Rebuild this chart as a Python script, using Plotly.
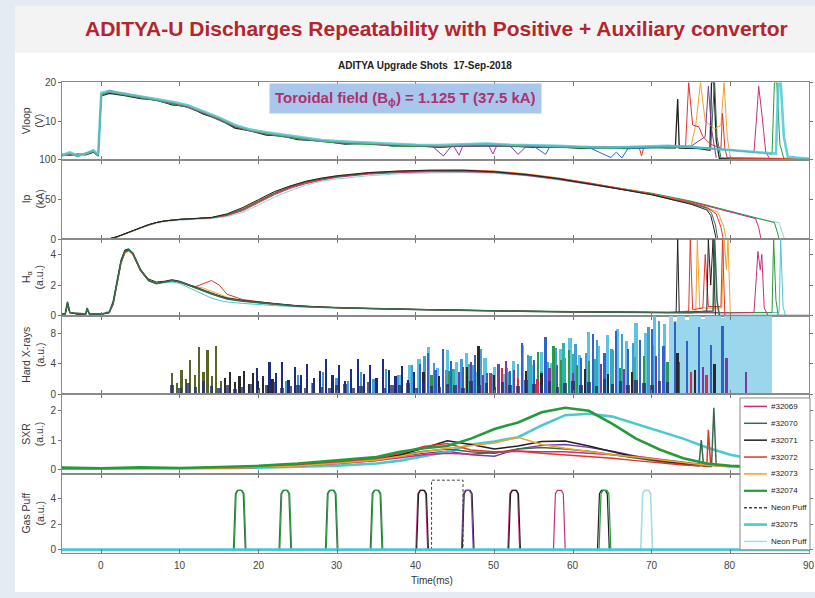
import plotly.graph_objects as go

# ------------------------------------------------------------------ data
shot_ids = ["#32069", "#32070", "#32071", "#32072", "#32073", "#32074", "#32075"]
x_ticks = [0, 10, 20, 30, 40, 50, 60, 70, 80, 90]

# ---- Vloop (V): common time base + per-shot events (dips / termination spikes)
t_vloop = [-5, -4, -3, -2, -1, -0.4, 0, 1, 3, 5, 7, 9, 11, 13, 15, 17, 19, 21, 23, 25, 28, 31, 34, 37,
           40, 43, 46, 49, 52, 55, 58, 61, 64, 67, 70, 72]
vloop_32069 = [1.3, 1.7, 1.2, 1.5, 2.2, 1.2, 16.9, 17.5, 16.9, 16.2, 15.4, 14.7, 13.7, 12.2, 10.5, 8.7, 7.5, 6.8, 6.2, 5.7, 4.9, 4.5, 4.2, 3.9, 3.7, 3.6, 3.8, 4.0, 3.7, 3.6, 3.4, 3.2, 3.1, 3.2, 3.4, 3.5]
vloop_32070 = [1.0, 1.6, 0.8, 1.8, 2.1, 1.1, 16.8, 18.0, 16.8, 16.1, 15.3, 14.6, 13.5, 12.0, 10.2, 8.5, 7.4, 6.7, 6.1, 5.5, 4.8, 4.3, 4.1, 3.7, 3.5, 3.4, 3.6, 3.8, 3.5, 3.5, 3.3, 3.1, 3.0, 3.1, 3.2, 3.3]
vloop_32071 = [1.4, 1.2, 1.5, 1.3, 2.0, 1.0, 16.5, 17.2, 16.6, 15.8, 15.5, 14.2, 13.8, 11.8, 10.5, 8.2, 7.5, 6.4, 6.2, 5.2, 4.9, 4.1, 4.3, 3.6, 3.7, 3.2, 3.7, 3.6, 3.6, 3.2, 3.4, 3.0, 3.1, 2.9, 3.3, 3.1]
vloop_32072 = [1.1, 1.5, 1.3, 1.7, 2.3, 1.2, 17.0, 17.6, 17.2, 16.3, 15.6, 14.8, 13.9, 12.3, 10.7, 8.8, 7.6, 6.9, 6.3, 5.8, 5.0, 4.4, 4.3, 3.9, 3.8, 3.5, 3.9, 4.1, 3.8, 3.7, 3.5, 3.3, 3.2, 3.2, 3.4, 3.6]
vloop_32073 = [1.2, 1.8, 1.0, 1.6, 2.4, 1.3, 17.1, 17.7, 17.0, 16.4, 15.7, 14.9, 14.0, 12.5, 10.8, 8.9, 7.7, 7.0, 6.4, 5.9, 5.0, 4.6, 4.4, 4.0, 3.9, 3.7, 4.0, 4.2, 3.9, 3.8, 3.6, 3.4, 3.3, 3.3, 3.5, 3.6]
vloop_32074 = [1.0, 1.4, 1.1, 1.5, 2.0, 1.1, 16.6, 17.4, 16.7, 15.9, 15.3, 14.4, 13.6, 12.1, 10.4, 8.6, 7.4, 6.6, 6.0, 5.4, 4.7, 4.2, 4.0, 3.6, 3.5, 3.3, 3.5, 3.7, 3.4, 3.4, 3.2, 3.0, 2.9, 3.0, 3.1, 3.2]
vloop_32075 = [1.2, 1.9, 1.1, 1.6, 2.5, 1.3, 17.3, 17.8, 17.1, 16.4, 15.8, 15.0, 14.1, 12.6, 10.9, 9.0, 7.8, 7.1, 6.5, 6.0, 5.1, 4.7, 4.4, 4.1, 3.9, 3.8, 4.0, 4.2, 3.9, 3.8, 3.6, 3.4, 3.2, 3.3, 3.5, 3.6]
vloop_ev_t_32069 = [44.8, 45.5, 46.2, 49.3, 49.8, 50.3, 74, 77, 80, 82, 83.0, 83.3, 83.6, 84.0, 84.5, 85, 90]
vloop_ev_v_32069 = [3.6, 1.2, 3.5, 3.6, 1.5, 3.7, 3.4, 3.1, 2.6, 2.2, 2.0, 10, 19, 12, 2, 0.3, 0.2]
vloop_ev_t_32070 = [74, 76, 77.5, 77.8, 78.0, 78.3, 78.8, 90]
vloop_ev_v_32070 = [3.3, 3.2, 3.0, 14, 20, 6, 0.5, 0.3]
vloop_ev_t_32071 = [73.0, 73.3, 73.5, 76, 77.4, 77.6, 77.9, 78.2, 78.6, 90]
vloop_ev_v_32071 = [3.1, 15.7, 3.0, 2.9, 2.5, 20, 20, 5, 0.4, 0.2]
vloop_ev_t_32072 = [68.4, 68.7, 69.0, 74.3, 74.7, 75.2, 76, 76.5, 77.5, 78.8, 79.0, 79.3, 79.6, 90]
vloop_ev_v_32072 = [3.3, 1.0, 3.3, 3.5, 20, 9, 8.5, 6, 4, 3, 12, 3, 0.5, 0.2]
vloop_ev_t_32073 = [75, 75.6, 76.2, 76.8, 78, 78.8, 79.2, 79.6, 80.0, 90]
vloop_ev_v_32073 = [3.6, 9, 20, 10, 8, 9, 20, 6, 0.5, 0.3]
vloop_ev_t_32074 = [75, 80, 84, 85.3, 85.6, 85.9, 86.3, 86.8, 90]
vloop_ev_v_32074 = [3.2, 2.5, 1.8, 1.5, 20, 20, 4, 0.4, 0.2]
vloop_ev_t_32075 = [75, 80, 84, 85.8, 86.1, 86.4, 86.8, 87.3, 90]
vloop_ev_v_32075 = [3.3, 2.6, 1.9, 1.6, 20, 20, 6, 0.8, 0.3]
vloop_purple_t = [40, 42, 43.5, 44.5, 52, 53, 54, 60, 70, 75, 76.8, 77.2, 77.6, 78.2]
vloop_purple_v = [3.6, 3.7, 1.0, 3.5, 3.6, 1.4, 3.4, 3.3, 3.4, 3.5, 6, 19, 8, 0.5]
vloop_blue_t = [55, 56.5, 57, 62, 64.8, 65.5, 66.2, 67, 72]
vloop_blue_v = [3.5, 1.4, 3.3, 3.2, 0.6, 2.0, 0.5, 3.0, 3.2]

# ---- Ip (kA)
t_ip = [-5, 0.5, 1, 2, 3, 4, 5, 6, 7, 8, 10, 12, 14, 16, 18, 20, 22, 24, 26, 28, 30, 34, 38, 42, 46, 50,
        54, 58, 62, 66, 70, 73, 75, 77]
ip_32069 = [0, 0, 0.5, 3, 7, 11, 15, 18, 21, 23, 25, 26, 27, 30, 36, 46, 56, 64, 70, 74.5, 78, 82, 84, 85, 85, 84, 80.5, 75.5, 69.5, 63, 57, 51, 47, 42]
ip_32070 = [0, 0, 0.5, 3, 7, 11, 15, 18, 21, 23, 25, 26, 27, 31, 38, 48, 58, 66, 72, 76, 79, 83, 85, 86, 86, 84.5, 81, 76, 70, 63, 56, 49, 45, 39]
ip_32071 = [0, 0, 0.6, 3.2, 7.2, 11, 15, 18.5, 21, 23, 25, 26.5, 27.5, 32, 40, 50, 60, 67, 73, 77, 80, 84, 86, 87, 87, 85, 81.5, 76.5, 70, 63, 56, 49, 44, 37]
ip_32072 = [0, 0, 0.5, 3, 7, 11, 15, 18, 21, 23, 25, 26, 27, 30, 37, 47, 57, 65, 71, 75.5, 79, 83, 85.5, 86.5, 86.5, 85.5, 82, 77, 71, 64, 57, 50, 46, 40]
ip_32073 = [0, 0, 0.4, 2.8, 6.8, 10.8, 14.8, 18, 21, 23, 25, 26, 27, 31, 39, 49, 59, 67, 73, 77, 80, 84, 86, 87, 87.5, 86, 82.5, 77.5, 71, 64, 57, 50, 46, 40]
ip_32074 = [0, 0, 0.5, 3, 7, 11, 15, 18, 21, 23, 25, 26, 27, 31, 38, 48, 58, 66, 72, 76, 79, 83, 85, 86, 86, 85, 81.5, 76.5, 70.5, 64, 58, 52, 48, 43]
ip_32075 = [0, 0, 0.3, 2.5, 6, 10, 14, 17, 20, 22, 24, 25, 26, 28.5, 34, 43, 53, 61, 68, 73, 76, 80, 82.5, 83.5, 84, 83, 80, 75, 69, 63, 57, 51, 47, 42]
ip_ev_t_32069 = [79, 81, 82.5, 83.2, 83.6, 83.9, 90]
ip_ev_v_32069 = [37, 32, 28, 26, 15, 0, 0]
ip_ev_t_32070 = [77.6, 78.1, 78.4, 90]
ip_ev_v_32070 = [33, 18, 0, 0]
ip_ev_t_32071 = [77.5, 77.9, 78.2, 90]
ip_ev_v_32071 = [30, 14, 0, 0]
ip_ev_t_32072 = [78.2, 78.8, 79.1, 90]
ip_ev_v_32072 = [32, 15, 0, 0]
ip_ev_t_32073 = [78.4, 79.1, 79.5, 90]
ip_ev_v_32073 = [34, 18, 0, 0]
ip_ev_t_32074 = [79, 81, 83, 85, 85.6, 86.0, 86.2, 90]
ip_ev_v_32074 = [38, 33, 28, 23, 21, 8, 0, 0]
ip_ev_t_32075 = [79, 81, 83, 85, 86.2, 86.6, 86.9, 90]
ip_ev_v_32075 = [37, 32, 27, 23, 21, 8, 0, 0]

# ---- H-alpha (a.u.)
t_ha = [-5, -4.6, -4.3, -4.0, -3, -2, -1.8, -1.5, 0, 1, 1.5, 2, 2.5, 3, 3.5, 4, 4.5, 5, 6, 7, 8, 9, 10,
        11, 12, 13, 14, 15, 16, 18, 20, 22, 25, 28, 31, 35, 40, 45, 50, 55, 60, 65, 70, 72]
ha_32069 = [0.1, 0.1, 0.8, 0.2, 0.1, 0.1, 0.4, 0.1, 0.1, 0.2, 0.7, 2.1, 3.4, 4.1, 4.25, 4.0, 3.5, 2.9, 2.3, 2.1, 2.2, 2.3, 2.2, 2.0, 1.8, 1.6, 1.45, 1.3, 1.15, 1.0, 0.85, 0.75, 0.62, 0.55, 0.5, 0.45, 0.4, 0.35, 0.3, 0.28, 0.25, 0.22, 0.2, 0.2]
ha_32070 = [0.1, 0.1, 0.9, 0.2, 0.15, 0.1, 0.5, 0.1, 0.1, 0.2, 0.8, 2.2, 3.5, 4.2, 4.3, 4.1, 3.6, 3.0, 2.3, 2.1, 2.2, 2.3, 2.2, 2.0, 1.8, 1.6, 1.4, 1.25, 1.1, 0.95, 0.85, 0.75, 0.62, 0.55, 0.5, 0.45, 0.4, 0.35, 0.3, 0.28, 0.25, 0.22, 0.2, 0.2]
ha_32071 = [0.1, 0.1, 0.7, 0.2, 0.1, 0.1, 0.4, 0.1, 0.1, 0.2, 0.9, 2.3, 3.6, 4.3, 4.35, 4.1, 3.6, 3.0, 2.4, 2.2, 2.25, 2.35, 2.25, 2.05, 1.85, 1.65, 1.5, 1.3, 1.15, 1.0, 0.9, 0.78, 0.65, 0.57, 0.5, 0.46, 0.41, 0.36, 0.31, 0.28, 0.26, 0.23, 0.21, 0.2]
ha_32072 = [0.1, 0.1, 0.8, 0.2, 0.1, 0.1, 0.4, 0.1, 0.1, 0.2, 0.8, 2.2, 3.5, 4.2, 4.3, 4.0, 3.5, 2.9, 2.3, 2.1, 2.2, 2.3, 2.2, 2.0, 1.9, 2.1, 2.3, 2.0, 1.4, 1.05, 0.9, 0.78, 0.64, 0.56, 0.5, 0.45, 0.4, 0.35, 0.3, 0.28, 0.25, 0.22, 0.2, 0.2]
ha_32073 = [0.1, 0.1, 0.6, 0.2, 0.1, 0.1, 0.3, 0.1, 0.1, 0.2, 0.8, 2.1, 3.4, 4.1, 4.2, 4.0, 3.5, 2.9, 2.3, 2.1, 2.2, 2.3, 2.2, 2.0, 1.9, 1.8, 1.6, 1.4, 1.2, 1.0, 0.88, 0.76, 0.63, 0.55, 0.5, 0.45, 0.4, 0.35, 0.3, 0.28, 0.25, 0.22, 0.2, 0.2]
ha_32074 = [0.1, 0.1, 0.9, 0.2, 0.1, 0.1, 0.5, 0.1, 0.1, 0.2, 0.8, 2.2, 3.5, 4.2, 4.3, 4.1, 3.6, 3.0, 2.3, 2.1, 2.2, 2.3, 2.2, 2.0, 1.75, 1.55, 1.4, 1.25, 1.1, 0.95, 0.85, 0.75, 0.62, 0.55, 0.5, 0.45, 0.4, 0.35, 0.3, 0.28, 0.25, 0.22, 0.2, 0.2]
ha_32075 = [0.1, 0.1, 0.8, 0.2, 0.1, 0.1, 0.4, 0.1, 0.1, 0.3, 1.0, 2.4, 3.7, 4.3, 4.4, 4.1, 3.6, 3.0, 2.3, 2.1, 2.15, 2.2, 2.1, 1.85, 1.6, 1.35, 1.15, 1.0, 0.9, 0.8, 0.72, 0.66, 0.58, 0.52, 0.48, 0.43, 0.38, 0.33, 0.29, 0.26, 0.24, 0.21, 0.19, 0.19]
ha_ev_t_32069 = [75, 80, 83.0, 83.3, 83.5, 83.8, 84.0, 84.3, 84.8, 90]
ha_ev_v_32069 = [0.2, 0.18, 0.2, 2.5, 4.2, 3.0, 4.0, 0.5, 0.0, 0.0]
ha_ev_t_32070 = [75, 77.8, 78.0, 78.3, 78.6, 90]
ha_ev_v_32070 = [0.2, 0.3, 5, 1.0, 0, 0]
ha_ev_t_32071 = [73.1, 73.3, 73.5, 77.0, 77.2, 77.5, 77.8, 78.1, 90]
ha_ev_v_32071 = [0.2, 5, 0.2, 0.3, 5, 2, 5, 0, 0]
ha_ev_t_32072 = [74.7, 74.9, 75.2, 76.5, 76.8, 77.2, 78.8, 79.0, 79.3, 90]
ha_ev_v_32072 = [0.3, 5, 0.4, 0.5, 4, 0.6, 0.6, 5, 0, 0]
ha_ev_t_32073 = [75.6, 75.8, 76.1, 78.9, 79.2, 79.5, 79.7, 80.0, 90]
ha_ev_v_32073 = [0.3, 5, 0.5, 0.5, 5, 3, 5, 0, 0]
ha_ev_t_32074 = [80, 85.3, 85.5, 85.8, 86.1, 90]
ha_ev_v_32074 = [0.2, 0.2, 5, 1, 0, 0]
ha_ev_t_32075 = [80, 86.2, 86.4, 86.7, 87.0, 90]
ha_ev_v_32075 = [0.2, 0.2, 5, 0.6, 0, 0]

# ---- Hard X-rays (a.u.): burst times and heights, grouped by trace colour
hxr_floor_t = list(range(9, 73))
hxr_floor_h = [1.2, 0.8, 1.5, 1.0, 1.7, 1.1, 0.9, 1.3, 0.7, 1.0,
               1.4, 0.9, 1.2, 1.6, 0.8, 1.1, 1.3, 0.9, 1.5, 1.0,
               0.8, 1.2, 1.4, 0.9, 1.1, 1.6, 1.0, 0.8, 1.3, 1.2,
               1.5, 0.9, 1.7, 1.1, 1.0, 1.4, 1.3, 0.9, 1.8, 1.2,
               1.5, 1.0, 1.6, 1.3, 1.1, 1.9, 1.4, 1.2, 1.7, 1.0,
               1.5, 1.8, 1.3, 1.6, 1.1, 2.0, 1.4, 1.7, 1.2, 1.9,
               1.5, 1.3, 1.8, 1.6]
hxr_olive_t = [9.0, 9.6, 10.2, 10.8, 11.3, 11.9, 12.4, 13.0, 13.5, 14.1, 14.6, 15.2]
hxr_olive_h = [2.8, 1.5, 3.2, 2.0, 4.5, 2.6, 6.2, 3.0, 5.8, 2.4, 6.3, 1.8]
hxr_black_t = [15.8, 16.4, 17.0, 17.6, 18.2, 18.8, 19.3, 20.0, 20.6, 21.2, 21.8, 41.0, 43.0, 46.5, 48.0,
               50.0, 54.0, 56.0, 61.5, 64.5, 67.5, 73.3, 75.5, 78.0]
hxr_black_h = [2.2, 3.0, 1.6, 2.4, 3.1, 1.4, 2.8, 1.7, 2.2, 1.3, 2.0, 3.0, 2.4, 3.6, 6.4,
               2.5, 3.1, 2.8, 3.4, 2.7, 3.0, 5.5, 3.2, 4.0]
hxr_navy_t = [19.8, 20.6, 21.4, 22.2, 23.0, 23.8, 24.6, 25.4, 26.2, 27.0, 27.8, 28.6, 29.4, 30.2, 31.0,
              31.8, 32.6, 33.4, 34.2, 35.0, 35.8, 36.6, 37.4, 38.2, 39.0, 39.8]
hxr_navy_h = [3.5, 2.4, 4.3, 2.8, 4.2, 1.9, 3.6, 2.5, 4.0, 2.2, 3.1, 4.6, 2.6, 3.9, 1.8,
              3.3, 4.6, 2.7, 3.8, 2.1, 4.6, 3.2, 2.4, 3.7, 1.9, 3.0]
hxr_sky_t = [23.5, 25.0, 26.8, 28.2, 29.9, 31.4, 33.0, 34.6, 36.2, 37.7, 39.5, 41.1, 42.3, 43.9, 45.8, 47.2,
             48.3, 49.7, 51.6, 53.0, 54.3, 55.9, 57.8, 59.0, 60.3, 61.6, 63.0, 64.9, 66.2, 67.6, 69.6, 70.9]
hxr_sky_h = [1.8, 2.6, 1.5, 3.0, 2.2, 1.7, 2.9, 2.0, 3.4, 2.5, 3.9, 5.0, 4.1, 3.2, 4.6, 3.8,
             5.9, 2.7, 3.5, 4.0, 5.2, 3.1, 6.1, 4.8, 6.6, 5.5, 7.2, 6.0, 7.9, 6.8, 8.8, 9.6]
hxr_blue_t = [40.5, 41.5, 42.5, 43.5, 44.5, 46.0, 47.5, 49.0, 50.5, 52.0, 53.5, 55.0, 56.5, 58.0, 59.5,
              61.0, 62.5, 64.0, 65.5, 67.0, 68.5, 70.0, 71.5, 73.0, 74.5, 76.0, 77.5, 79.0]
hxr_blue_h = [4.0, 5.5, 3.2, 6.0, 4.4, 3.6, 5.2, 2.8, 4.0, 3.1, 6.8, 4.5, 7.5, 3.9, 5.2,
              4.8, 7.9, 5.5, 8.3, 6.0, 7.2, 8.6, 6.4, 9.5, 7.0, 8.8, 6.5, 9.0]
hxr_cyan_t = [38.0, 39.2, 40.4, 41.6, 42.8, 44.0, 45.2, 46.4, 47.6, 48.8, 50.0, 51.2, 52.4, 53.6, 54.8,
              56.0, 57.2, 58.4, 59.6, 60.8, 62.0, 63.2, 64.4, 65.6, 66.8, 68.0, 69.2, 70.4, 71.6]
hxr_cyan_h = [2.5, 3.8, 4.6, 6.2, 3.5, 5.8, 4.2, 5.4, 2.9, 4.8, 3.6, 2.7, 4.4, 6.5, 3.8,
              5.6, 4.1, 6.0, 7.4, 5.2, 8.2, 6.3, 7.8, 8.6, 7.0, 9.4, 8.1, 10.3, 9.2]
hxr_teal_t = [44.8, 46.8, 51.9, 54.6, 56.8, 58.8, 60.0, 62.8, 65.0, 67.9, 70.2]
hxr_teal_h = [3.4, 4.0, 3.0, 5.0, 4.2, 6.7, 5.3, 4.6, 5.8, 4.9, 6.5]
hxr_dense_t = [72.5, 73.0, 73.5, 74.0, 74.5, 75.0, 75.5, 76.0, 76.5, 77.0, 77.5, 78.0, 78.5, 79.0, 79.5,
               80.0, 80.5, 81.0, 81.5, 82.0, 82.5, 83.0, 83.5, 84.0, 84.5, 85.0]
hxr_dense_h = [10.3, 9.6, 10.3, 10.3, 9.8, 10.3, 10.3, 10.3, 9.9, 10.3, 10.3, 10.3, 10.3, 10.0, 10.3,
               10.3, 10.3, 10.3, 10.3, 10.3, 10.3, 10.3, 10.3, 10.3, 10.3, 10.3]
hxr_purple_t = [45.5, 47.0, 48.5, 50.5, 51.5, 52.5, 57.0, 60.0, 63.5, 66.5, 70.5, 73.5, 76.5, 79.5, 82.0]
hxr_purple_h = [3.0, 4.2, 2.6, 3.8, 4.4, 3.2, 3.5, 2.8, 4.0, 3.3, 5.0, 4.2, 3.6, 4.8, 3.0]
hxr_green_t = [42.0, 44.2, 55.5, 57.5, 58.5, 59.5, 60.5, 62.0, 66.0, 69.0, 72.0]
hxr_green_h = [2.6, 3.1, 5.6, 6.3, 4.5, 5.8, 3.9, 4.4, 3.5, 5.0, 4.2]
hxr_red_t = [49.5, 51.0, 53.0, 55.5, 75.0, 77.0]
hxr_red_h = [2.8, 3.5, 2.2, 2.0, 3.0, 2.5]

# ---- SXR (a.u.)
t_sxr = [-5, 0, 5, 10, 15, 20, 25, 30, 35, 38, 41, 44, 47, 50, 53, 56, 59, 62, 65, 68, 71, 74, 77, 80, 83, 86]
sxr_32069 = [0.03, 0.03, 0.03, 0.04, 0.05, 0.07, 0.12, 0.2, 0.3, 0.4, 0.5, 0.55, 0.52, 0.58, 0.62, 0.6, 0.6, 0.55, 0.5, 0.45, 0.35, 0.25, 0.15, 0.1, 0.07]
sxr_32070 = [0.04, 0.04, 0.05, 0.05, 0.06, 0.09, 0.14, 0.22, 0.33, 0.48, 0.62, 0.7, 0.6, 0.55, 0.7, 0.75, 0.7, 0.62, 0.5, 0.38, 0.27, 0.18, 0.1]
sxr_32071 = [0.04, 0.03, 0.04, 0.05, 0.06, 0.09, 0.15, 0.25, 0.38, 0.5, 0.72, 0.98, 0.85, 0.7, 0.8, 0.95, 0.97, 0.8, 0.6, 0.42, 0.3, 0.2, 0.12]
sxr_32072 = [0.03, 0.03, 0.04, 0.04, 0.05, 0.08, 0.14, 0.25, 0.36, 0.55, 0.78, 0.88, 0.66, 0.6, 0.63, 0.55, 0.5, 0.45, 0.38, 0.3, 0.22, 0.15, 0.09]
sxr_32073 = [0.03, 0.03, 0.03, 0.04, 0.05, 0.07, 0.12, 0.21, 0.32, 0.45, 0.6, 0.72, 0.8, 0.9, 1.1, 0.85, 0.72, 0.6, 0.5, 0.42, 0.32, 0.22, 0.14, 0.08]
sxr_32074 = [0.06, 0.04, 0.07, 0.05, 0.08, 0.12, 0.2, 0.3, 0.42, 0.6, 0.72, 0.8, 1.05, 1.38, 1.6, 1.95, 2.1, 2.0, 1.55, 1.05, 0.68, 0.38, 0.2, 0.12, 0.09]
sxr_32075 = [0.03, 0.02, 0.03, 0.03, 0.04, 0.06, 0.09, 0.13, 0.2, 0.3, 0.45, 0.6, 0.85, 0.95, 1.1, 1.5, 1.85, 1.9, 1.8, 1.55, 1.3, 1.05, 0.75, 0.5, 0.35, 0.25]
sxr_purple = [0.03, 0.03, 0.04, 0.04, 0.05, 0.07, 0.12, 0.2, 0.3, 0.45, 0.55, 0.62, 0.5, 0.45, 0.7, 0.82, 0.85, 0.75, 0.62, 0.45, 0.3, 0.2, 0.12]
sxr_ev_t_32070 = [76.0, 76.3, 76.6, 77.6, 77.9, 78.2]
sxr_ev_v_32070 = [0.12, 1.0, 0.12, 0.1, 2.1, 0.1]
sxr_ev_t_32072 = [76.9, 77.2, 77.5]
sxr_ev_v_32072 = [0.12, 1.35, 0.12]
sxr_offset_t = [-5, 90]
sxr_offset_v = [-0.15, -0.15]

# ---- Gas puff (a.u.): valve pulse start times per shot
puff_32069 = [40.0, 51.7, 57.5]
puff_32070 = [16.8, 22.6, 28.5, 34.2]
puff_32071 = [40.1, 45.9, 51.8, 63.1]
puff_32074 = [16.9, 22.7, 28.6, 34.3, 63.3]
puff_purple = [45.8]
puff_neon2 = [68.6]
pulse_dt = [0, 0.25, 0.5, 1.0, 1.25, 1.5]
pulse_level = [0, 4.4, 4.65, 4.65, 4.4, 0]
neon_t = [42.0, 42.0, 46.0, 46.0]
neon_v = [0, 5.45, 5.45, 0]

# legend entries (label, series key)
legend_labels = ["#32069", "#32070", "#32071", "#32072", "#32073", "#32074", "Neon Puff", "#32075", "Neon Puff"]
legend_keys = ["#32069", "#32070", "#32071", "#32072", "#32073", "#32074", "neon", "#32075", "neon2"]

# ------------------------------------------------------------------ style
C = {"#32069": "#c4307c", "#32070": "#3a6a4e", "#32071": "#202020", "#32072": "#e2352b",
     "#32073": "#f2a12c", "#32074": "#249a3a", "#32075": "#4cc9cf",
     "neon": "#444444", "neon2": "#9fe0e6"}
LEG_W = {"#32074": 2.2, "#32075": 2.6}
LEG_DASH = {"neon": "3px,2px"}
PURPLE, BLUE, NAVY, OLIVE = "#7a3c9e", "#2f62cf", "#1f2b80", "#5b6425"
FONT = "Liberation Sans Narrow, Arial Narrow, Liberation Sans, Arial"
W, H = 815, 598

vloop_base = dict(zip(shot_ids, [vloop_32069, vloop_32070, vloop_32071, vloop_32072, vloop_32073, vloop_32074, vloop_32075]))
vloop_evt = dict(zip(shot_ids, [vloop_ev_t_32069, vloop_ev_t_32070, vloop_ev_t_32071, vloop_ev_t_32072, vloop_ev_t_32073, vloop_ev_t_32074, vloop_ev_t_32075]))
vloop_evv = dict(zip(shot_ids, [vloop_ev_v_32069, vloop_ev_v_32070, vloop_ev_v_32071, vloop_ev_v_32072, vloop_ev_v_32073, vloop_ev_v_32074, vloop_ev_v_32075]))
ip_base = dict(zip(shot_ids, [ip_32069, ip_32070, ip_32071, ip_32072, ip_32073, ip_32074, ip_32075]))
ip_evt = dict(zip(shot_ids, [ip_ev_t_32069, ip_ev_t_32070, ip_ev_t_32071, ip_ev_t_32072, ip_ev_t_32073, ip_ev_t_32074, ip_ev_t_32075]))
ip_evv = dict(zip(shot_ids, [ip_ev_v_32069, ip_ev_v_32070, ip_ev_v_32071, ip_ev_v_32072, ip_ev_v_32073, ip_ev_v_32074, ip_ev_v_32075]))
ha_base = dict(zip(shot_ids, [ha_32069, ha_32070, ha_32071, ha_32072, ha_32073, ha_32074, ha_32075]))
ha_evt = dict(zip(shot_ids, [ha_ev_t_32069, ha_ev_t_32070, ha_ev_t_32071, ha_ev_t_32072, ha_ev_t_32073, ha_ev_t_32074, ha_ev_t_32075]))
ha_evv = dict(zip(shot_ids, [ha_ev_v_32069, ha_ev_v_32070, ha_ev_v_32071, ha_ev_v_32072, ha_ev_v_32073, ha_ev_v_32074, ha_ev_v_32075]))
sxr_base = dict(zip(shot_ids, [sxr_32069, sxr_32070, sxr_32071, sxr_32072, sxr_32073, sxr_32074, sxr_32075]))
sxr_evt = {"#32070": sxr_ev_t_32070, "#32072": sxr_ev_t_32072}
sxr_evv = {"#32070": sxr_ev_v_32070, "#32072": sxr_ev_v_32072}
puffs = {"#32069": puff_32069, "#32070": puff_32070, "#32071": puff_32071, "#32074": puff_32074}


def merged(tb, vb, te=(), ve=()):
    pts = sorted(list(zip(tb, vb)) + list(zip(te, ve)), key=lambda p: p[0])
    return [p[0] for p in pts], [p[1] for p in pts]


def pulse_train(starts):
    xs, ys = [-5], [0]
    for s in starts:
        xs += [s + d for d in pulse_dt]
        ys += pulse_level
    xs.append(90)
    ys.append(0)
    return xs, ys


AX = {"vloop": ("x", "y"), "ip": ("x2", "y2"), "ha": ("x3", "y3"),
      "hxr": ("x4", "y4"), "sxr": ("x5", "y5"), "gas": ("x6", "y6")}

fig = go.Figure()


def line(panel, xs, ys, color, width=1.1, dash=None, opacity=1.0):
    xa, ya = AX[panel]
    fig.add_trace(go.Scatter(x=xs, y=ys, mode="lines", xaxis=xa, yaxis=ya, showlegend=False,
                             opacity=opacity, line=dict(color=color, width=width, dash=dash),
                             hoverinfo="skip"))


def spikes(xs, hs, color, width=0.3, opacity=1.0):
    fig.add_trace(go.Bar(x=xs, y=hs, width=width, xaxis="x4", yaxis="y4", showlegend=False,
                         marker=dict(color=color, line=dict(width=0)), opacity=opacity,
                         hoverinfo="skip"))


# Vloop
for s in ["#32071", "#32070", "#32074", "#32069", "#32073", "#32072"]:
    xs, ys = merged(t_vloop, vloop_base[s], vloop_evt[s], vloop_evv[s])
    line("vloop", xs, ys, C[s], 1.3 if s == "#32071" else 1.0)
line("vloop", vloop_purple_t, vloop_purple_v, PURPLE, 1.0)
line("vloop", vloop_blue_t, vloop_blue_v, BLUE, 1.0)
xs, ys = merged(t_vloop, vloop_base["#32075"], vloop_evt["#32075"], vloop_evv["#32075"])
line("vloop", xs, ys, C["#32075"], 2.6, opacity=0.85)

# Ip
for s in ["#32075", "#32074", "#32069", "#32073", "#32072", "#32070", "#32071"]:
    xs, ys = merged(t_ip, ip_base[s], ip_evt[s], ip_evv[s])
    line("ip", xs, ys, C[s] if s != "#32075" else "#8fd6dc", 1.0)

# H-alpha
for s in ["#32075", "#32074", "#32069", "#32073", "#32072", "#32071", "#32070"]:
    xs, ys = merged(t_ha, ha_base[s], ha_evt[s], ha_evv[s])
    line("ha", xs, ys, C[s], 1.6 if s == "#32070" else 1.0)

# Hard X-rays
spikes(hxr_dense_t, hxr_dense_h, "#8fd3ea", 0.5, 0.9)
spikes(hxr_cyan_t, hxr_cyan_h, "#5cc3e3", 0.4)
spikes(hxr_sky_t, hxr_sky_h, "#3f9ed8", 0.3)
spikes(hxr_teal_t, hxr_teal_h, "#2fb5a5", 0.3)
spikes(hxr_olive_t, hxr_olive_h, OLIVE, 0.28)
spikes(hxr_navy_t, hxr_navy_h, NAVY, 0.28)
spikes(hxr_blue_t, hxr_blue_h, BLUE, 0.28)
spikes(hxr_green_t, hxr_green_h, "#2a9a4a", 0.28)
spikes(hxr_purple_t, hxr_purple_h, PURPLE, 0.28)
spikes(hxr_red_t, hxr_red_h, "#d0304a", 0.25)
spikes(hxr_black_t, hxr_black_h, "#2a2a2a", 0.22)
spikes(hxr_floor_t, hxr_floor_h, "#27306e", 0.45, 0.8)

# SXR
line("sxr", sxr_offset_t, sxr_offset_v, "#f08aa0", 1.0)
line("sxr", t_sxr, sxr_purple, PURPLE, 1.3)
for s in ["#32075", "#32069", "#32070", "#32071", "#32072", "#32073", "#32074"]:
    xs, ys = merged(t_sxr, sxr_base[s], sxr_evt.get(s, ()), sxr_evv.get(s, ()))
    line("sxr", xs, ys, C[s], 2.6 if s in ("#32074", "#32075") else 1.5)

# Gas puff
for s, st in puffs.items():
    xs, ys = pulse_train(st)
    line("gas", xs, ys, C[s], 1.2)
xs, ys = pulse_train(puff_purple)
line("gas", xs, ys, PURPLE, 1.2)
line("gas", neon_t, neon_v, C["neon"], 1.0, dash="3px,2px")
xs, ys = pulse_train(puff_neon2)
line("gas", xs, ys, C["neon2"], 1.6)
gx, gy = pulse_train([])
line("gas", gx, gy, C["#32075"], 3.0)

# ------------------------------------------------------------------ layout
panels = [  # key, top px, bottom px, range, ticks, tick text, label
    ("vloop", 78, 157, [0, 20], [0, 10, 20], ["", "10", "20"], "Vloop<br>(V)"),
    ("ip", 157, 238, [0, 100], [0, 50, 100], ["0", "50", "100"], "Ip<br>(kA)"),
    ("ha", 238, 316, [0, 5], [0, 2, 4], ["0", "2", "4"], "H<sub>α</sub><br>(a.u.)"),
    ("hxr", 316, 396, [0, 10.3], [0, 4, 8], ["0", "4", "8"], "Hard X-rays<br>(a.u.)"),
    ("sxr", 396, 478, [-0.17, 2.57], [0, 1, 2], ["0", "1", "2"], "SXR<br>(a.u.)"),
    ("gas", 478, 558, [-0.23, 5.9], [0, 2, 4], ["0", "2", "4"], "Gas Puff<br>(a.u.)"),
]
x_dom = [62 / W, 809 / W]
layout = dict(width=W, height=H, margin=dict(l=0, r=0, t=0, b=0), barmode="overlay", bargap=0,
              paper_bgcolor="#e4ebf3", plot_bgcolor="white", showlegend=False,
              font=dict(family=FONT, size=10, color="#333"))
annotations = []
for i, (key, top, bot, rng, tv, tt, lab) in enumerate(panels):
    xa, ya = AX[key]
    xname = "xaxis" + ("" if i == 0 else str(i + 1))
    yname = "yaxis" + ("" if i == 0 else str(i + 1))
    xcfg = dict(domain=x_dom, anchor=ya, range=[-5, 90], tickvals=x_ticks,
                showticklabels=False, ticks="inside", ticklen=4, tickcolor="#777",
                showline=True, linecolor="#8a8a8a", linewidth=1, mirror="ticks",
                showgrid=False, zeroline=False)
    if i > 0:
        xcfg["matches"] = "x"
    layout[xname] = xcfg
    layout[yname] = dict(domain=[1 - bot / H, 1 - top / H], anchor=xa, range=rng, tickvals=tv,
                         ticktext=tt, ticks="outside", ticklen=3, tickcolor="#777", showline=True,
                         linecolor="#8a8a8a", linewidth=1, mirror="ticks", showgrid=False,
                         zeroline=False, tickfont=dict(size=10, color="#444"))
    annotations.append(dict(text=lab, x=33 / W, y=1 - (top + bot) / 2 / H, xref="paper", yref="paper",
                            showarrow=False, textangle=-90, xanchor="center", yanchor="middle",
                            font=dict(size=10.5, color="#3a3a3a")))
# time-axis tick labels, placed on the bottom panel's x scale
for v in x_ticks:
    annotations.append(dict(text=str(v), x=v, xref="x6", y=1 - 571 / H, yref="paper",
                            showarrow=False, xanchor="center", yanchor="middle",
                            font=dict(size=10, color="#444")))
annotations += [
    dict(text="<b>ADITYA-U Discharges Repeatability with Positive + Auxiliary convertor</b>",
         x=436 / W, y=1 - 23 / H, xref="paper", yref="paper", showarrow=False,
         xanchor="center", yanchor="middle",
         font=dict(size=21, color="#b3262e", family=FONT)),
    dict(text="<b>ADITYA Upgrade Shots  17-Sep-2018</b>", x=425 / W, y=1 - 61 / H, xref="paper",
         yref="paper", showarrow=False, xanchor="center", yanchor="middle",
         font=dict(size=10, color="#222", family=FONT)),
    dict(text="<b>Toroidal field (B<sub>ϕ</sub>) = 1.125 T (37.5 kA)</b>", x=405 / W, y=1 - 94 / H,
         xref="paper", yref="paper", showarrow=False, bgcolor="#a9c7ec", borderpad=5,
         xanchor="center", yanchor="middle",
         font=dict(size=15, color="#b0306e", family=FONT)),
    dict(text="Time(ms)", x=432 / W, y=1 - 586 / H, xref="paper", yref="paper", showarrow=False,
         xanchor="center", yanchor="middle", font=dict(size=10, color="#333")),
]
shapes = [
    dict(type="rect", xref="paper", yref="paper", x0=15 / W, x1=1, y0=1 - 48 / H, y1=1,
         fillcolor="#f3f3f3", line=dict(width=0), layer="below"),
    dict(type="rect", xref="paper", yref="paper", x0=15 / W, x1=1, y0=0, y1=1 - 48 / H,
         fillcolor="white", line=dict(width=0), layer="below"),
]
# legend box (drawn in paper space so its rows match the reference's tight spacing)
LG_L, LG_R, LG_T, LG_B = 740, 810, 400, 555
row_h = (LG_B - LG_T) / len(legend_labels)
shapes.append(dict(type="rect", xref="paper", yref="paper", x0=LG_L / W, x1=LG_R / W,
                   y0=1 - LG_B / H, y1=1 - LG_T / H, fillcolor="white",
                   line=dict(color="#8a8a8a", width=1), layer="above"))
for j, (lab, key) in enumerate(zip(legend_labels, legend_keys)):
    yc = 1 - (LG_T + row_h * (j + 0.5)) / H
    shapes.append(dict(type="line", xref="paper", yref="paper", x0=(LG_L + 4) / W, x1=(LG_L + 27) / W,
                       y0=yc, y1=yc, layer="above",
                       line=dict(color=C[key], width=LEG_W.get(key, 1.5), dash=LEG_DASH.get(key, "solid"))))
    annotations.append(dict(text=lab, x=(LG_L + 29) / W, y=yc, xref="paper", yref="paper",
                            showarrow=False, xanchor="left", yanchor="middle",
                            font=dict(size=8, color="#222")))
layout["annotations"] = annotations
layout["shapes"] = shapes
fig.update_layout(**layout)
fig.write_html("out.html")
